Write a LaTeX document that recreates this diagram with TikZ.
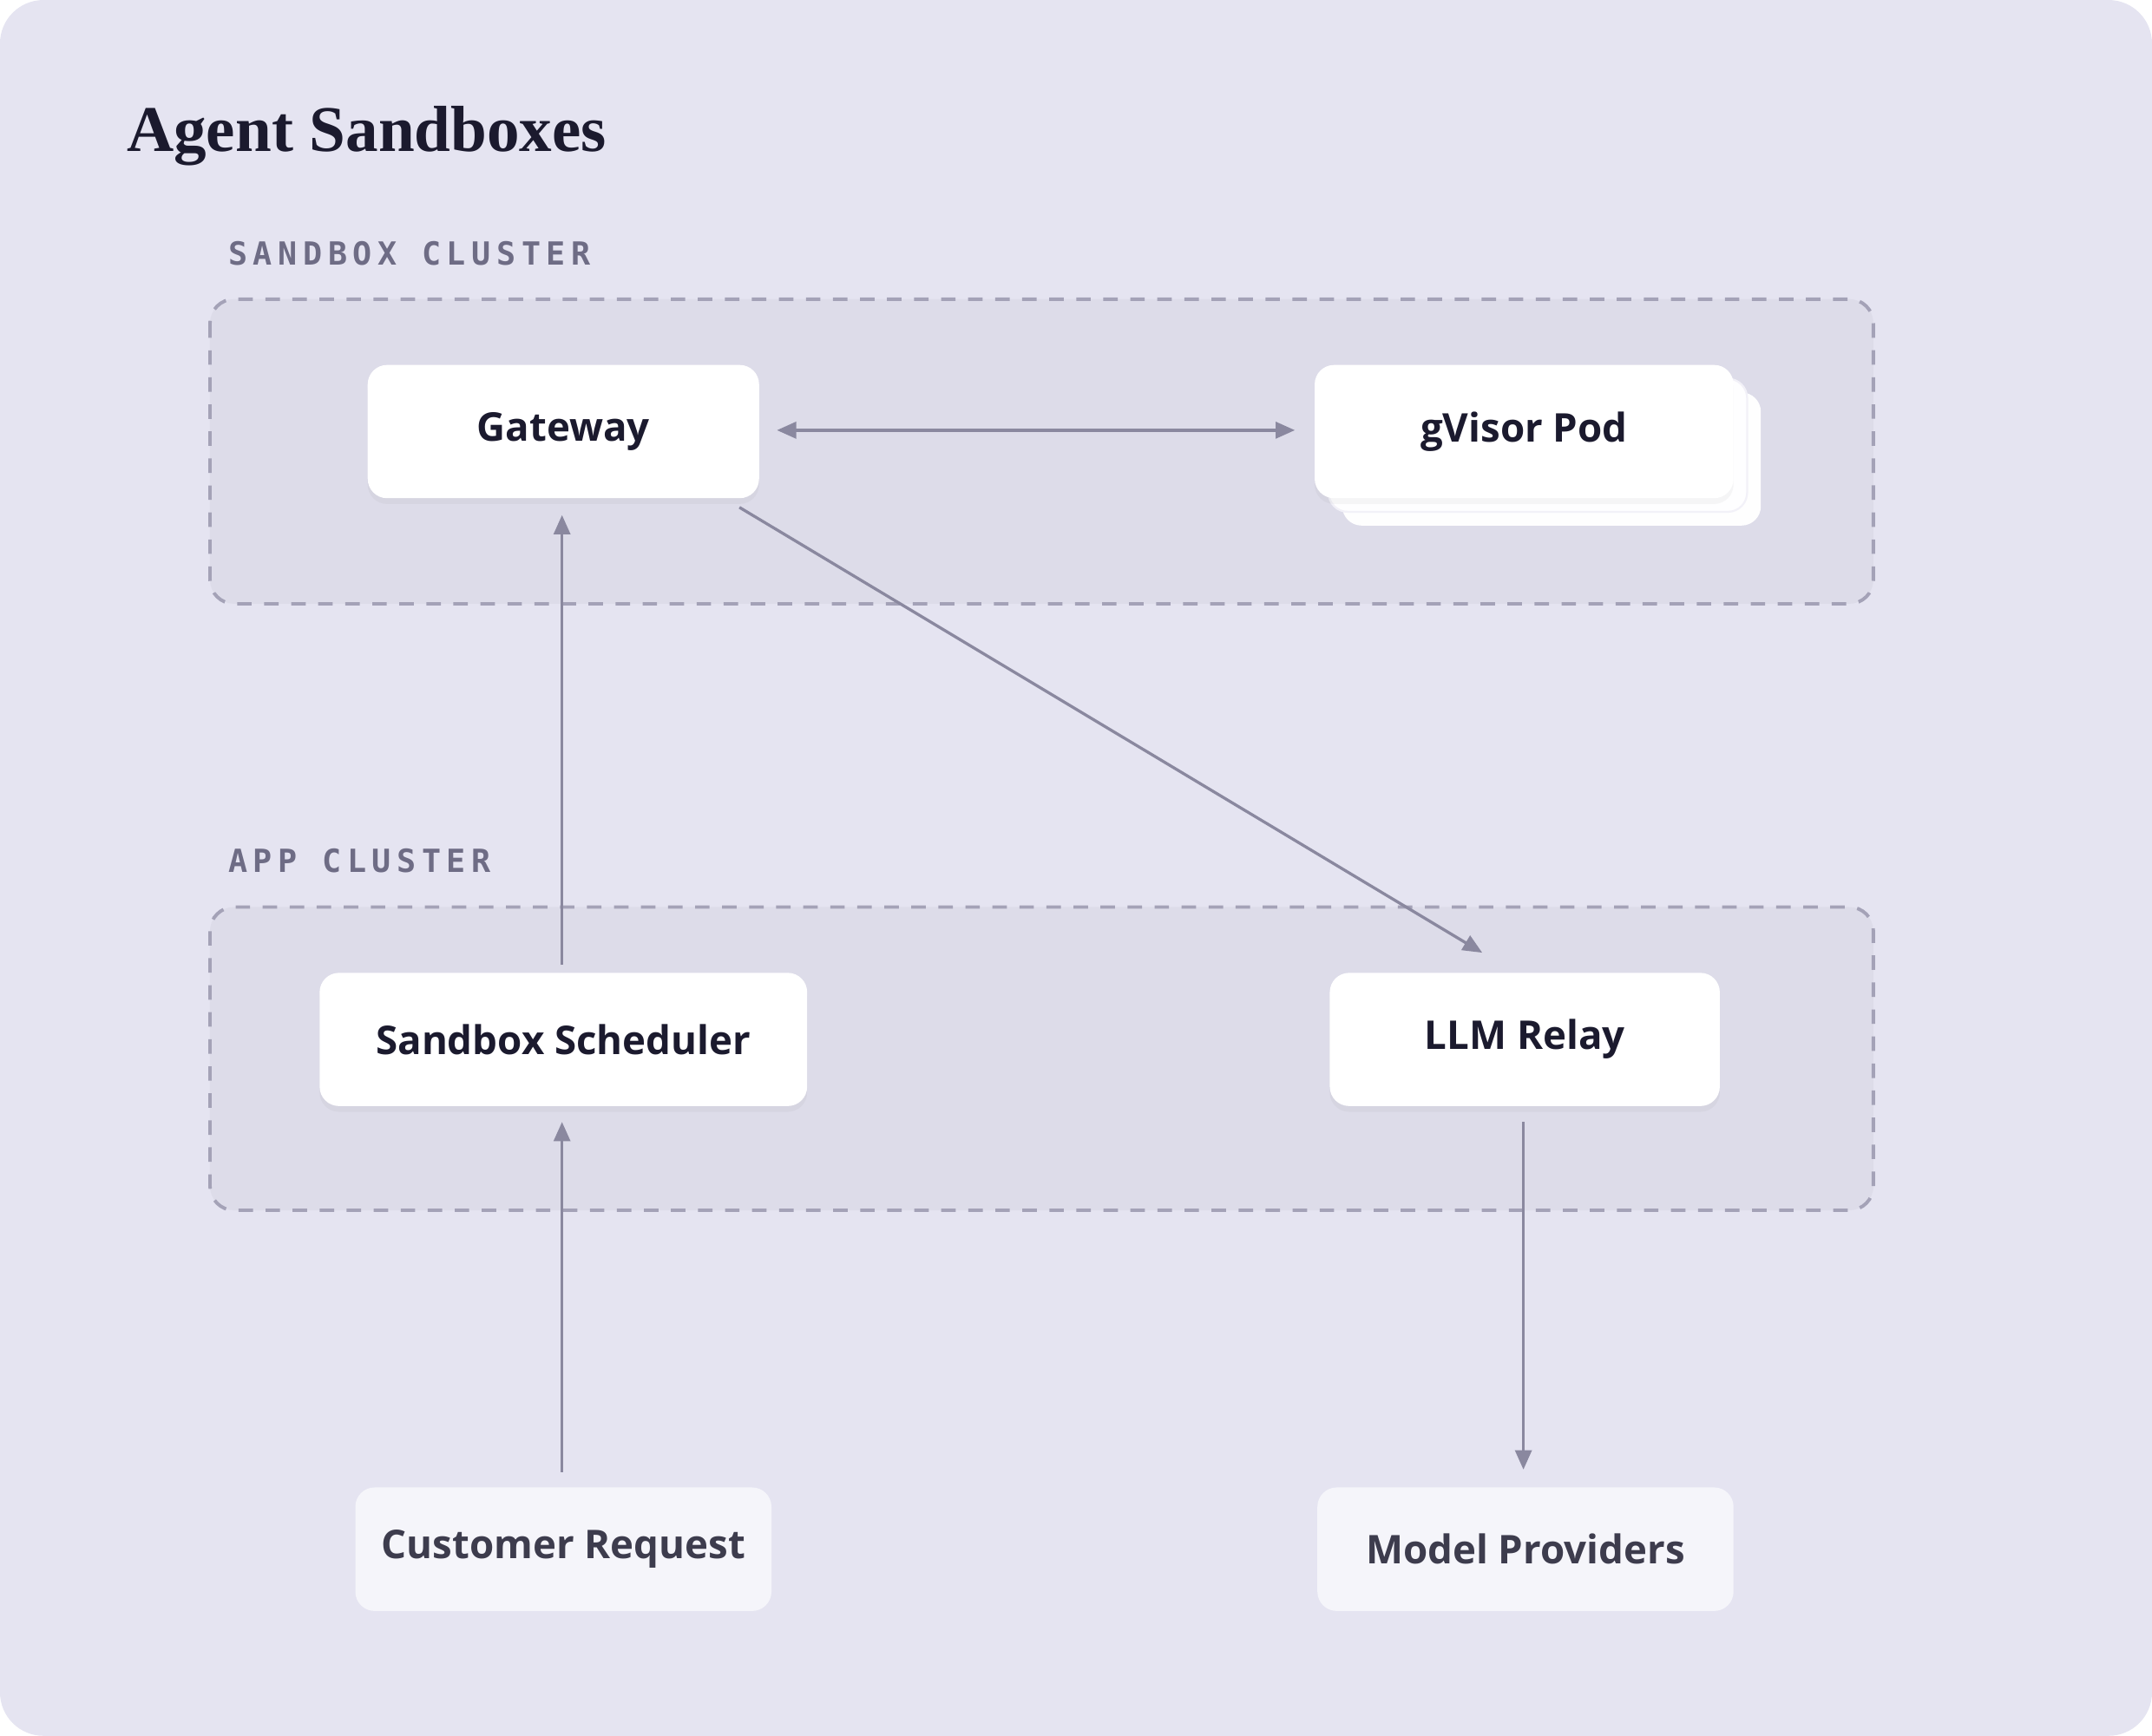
\documentclass[tikz,border=0pt]{standalone}
\usepackage{fontspec}
\setmainfont{Open Sans}
\newfontfamily\titlef{Liberation Serif}
\newfontfamily\monof[LetterSpace=18]{DejaVu Sans Mono}
\usetikzlibrary{arrows.meta,shadows,calc}
\definecolor{bg}{HTML}{E5E4F1}
\definecolor{clfill}{HTML}{DDDCE9}
\definecolor{dash}{HTML}{A4A2B7}
\definecolor{arr}{HTML}{8A889F}
\definecolor{ink}{HTML}{1B1A2E}
\definecolor{lbl}{HTML}{6E6C85}
\definecolor{ext}{HTML}{F5F5FA}
\begin{document}
\begin{tikzpicture}[x=0.01cm,y=-0.01cm,
  box/.style={draw=none,fill=white,rounded corners=4pt,text=ink,font=\fontsize{8.2pt}{10pt}\selectfont\bfseries,
    drop shadow={opacity=0.07,shadow xshift=0pt,shadow yshift=-1.2pt}},
  extb/.style={draw=none,fill=ext,rounded corners=4pt,text=ink!85,font=\fontsize{8.2pt}{10pt}\selectfont\bfseries},
  cluster/.style={draw=dash,fill=clfill,line width=0.7pt,dash pattern=on 3pt off 2.6pt,rounded corners=5pt},
  clab/.style={anchor=base west,text=lbl,font=\monof\fontsize{6.6pt}{8pt}\selectfont\bfseries},
  con/.style={draw=arr,line width=0.6pt,-{Triangle[length=4pt,width=3.4pt]}}]
\useasboundingbox (0,0) rectangle (1568,1265);
\fill[bg,rounded corners=9pt] (0,0) rectangle (1568,1265);
\node[anchor=base west,text=ink,font=\titlef\fontsize{13.5pt}{16pt}\selectfont\bfseries] (title) at (80,110) {Agent Sandboxes};
% clusters
\node[clab] (l1) at (154,193) {SANDBOX CLUSTER};
\draw[cluster] (153,218) rectangle (1365,440);
\node[clab] (l2) at (154,636) {APP CLUSTER};
\draw[cluster] (153,661) rectangle (1365,882);
% nodes
\fill[white!97!bg,rounded corners=4pt] (978,286) rectangle (1283,383);
\draw[ext!80!bg,fill=white!98!bg,rounded corners=4pt] (968,276) rectangle (1273,373);
\node[box,minimum width=2.85cm,minimum height=0.97cm] (gw) at (410.5,314.5) {Gateway};
\node[box,minimum width=3.05cm,minimum height=0.97cm] (gv) at (1110.5,314.5) {gVisor Pod};
\node[box,minimum width=3.55cm,minimum height=0.97cm] (ss) at (410.5,757.5) {Sandbox Scheduler};
\node[box,minimum width=2.84cm,minimum height=0.97cm] (llm) at (1111,757.5) {LLM Relay};
\node[extb,minimum width=3.03cm,minimum height=0.9cm] (cr) at (410.5,1129) {Customer Request};
\node[extb,minimum width=3.03cm,minimum height=0.9cm] (mp) at (1111.5,1129) {Model Providers};
% connectors
\draw[con,{Triangle[length=4pt,width=3.4pt]}-{Triangle[length=4pt,width=3.4pt]},shorten <=3.5pt,shorten >=3.9pt] ($(gw.east)+(0,-1)$) -- ($(gv.west)+(0,-1)$);
\draw[con] ($(gw.south east)+(-15,6)$) -- ($(llm.north)+(-31,-14)$);
\draw[con,shorten <=1.4pt,shorten >=3.3pt] ($(ss.north)+(-1,0)$) -- ($(gw.south)+(-1,0)$);
\draw[con,shorten <=3pt,shorten >=3.1pt] ($(cr.north)+(-1,0)$) -- ($(ss.south)+(-1,0)$);
\draw[con,shorten <=3.1pt,shorten >=3.5pt] ($(llm.south)+(-1,0)$) -- ($(mp.north)+(-1.5,0)$);
\end{tikzpicture}
\end{document}
